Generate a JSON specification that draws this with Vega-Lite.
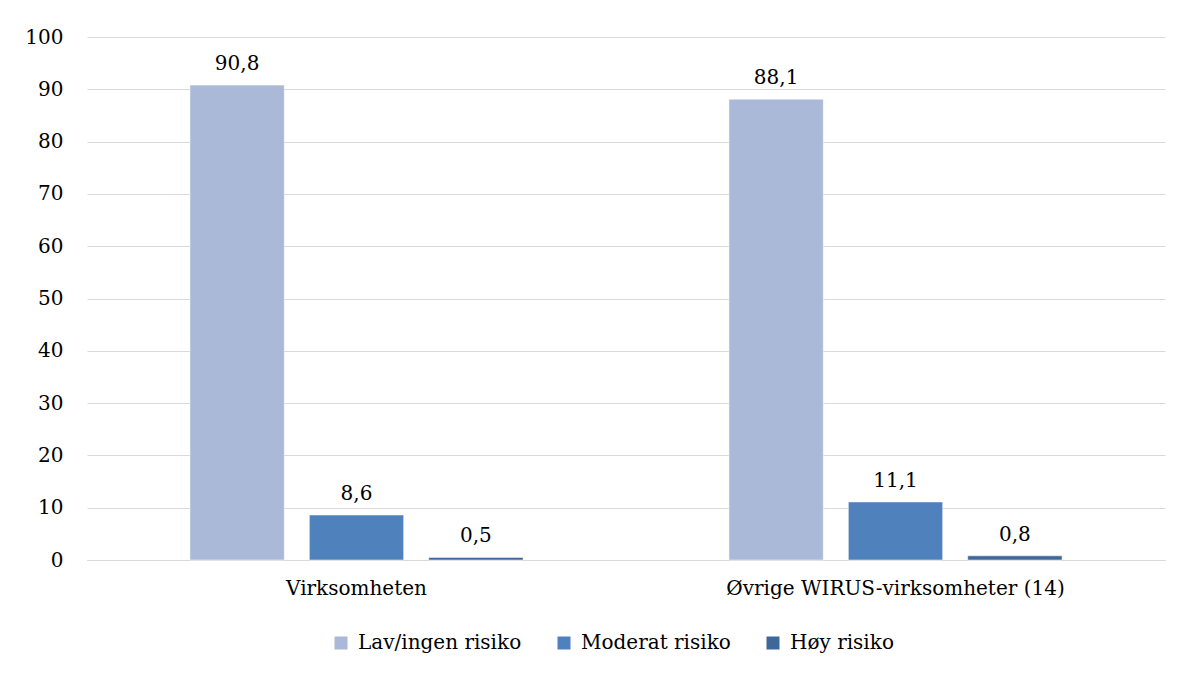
{
  "$schema": "https://vega.github.io/schema/vega-lite/v6.json",
  "autosize": {"type": "none"},
  "width": 1078,
  "height": 523,
  "padding": {"left": 87, "top": 37, "right": 23, "bottom": 115},
  "background": "white",
  "config": {
    "font": "DejaVu Serif",
    "view": {"stroke": null}
  },
  "data": {
    "values": [
      {"gruppe": "Virksomheten", "risiko": "Lav/ingen risiko", "verdi": 90.8, "label": "90,8"},
      {"gruppe": "Virksomheten", "risiko": "Moderat risiko", "verdi": 8.6, "label": "8,6"},
      {"gruppe": "Virksomheten", "risiko": "Høy risiko", "verdi": 0.5, "label": "0,5"},
      {"gruppe": "Øvrige WIRUS-virksomheter (14)", "risiko": "Lav/ingen risiko", "verdi": 88.1, "label": "88,1"},
      {"gruppe": "Øvrige WIRUS-virksomheter (14)", "risiko": "Moderat risiko", "verdi": 11.1, "label": "11,1"},
      {"gruppe": "Øvrige WIRUS-virksomheter (14)", "risiko": "Høy risiko", "verdi": 0.8, "label": "0,8"}
    ]
  },
  "encoding": {
    "x": {
      "field": "gruppe", "type": "nominal", "sort": null, "title": null,
      "scale": {"paddingInner": 0.382, "paddingOuter": 0.191},
      "axis": {"labelAngle": 0, "labelFontSize": 20, "labelLimit": 0, "labelColor": "#000000", "labelPadding": 18, "ticks": false, "domain": true, "domainColor": "#D9D9D9", "domainWidth": 1}
    },
    "xOffset": {
      "field": "risiko", "type": "nominal",
      "sort": ["Lav/ingen risiko", "Moderat risiko", "Høy risiko"],
      "scale": {"paddingInner": 0.21, "paddingOuter": 0}
    },
    "y": {
      "field": "verdi", "type": "quantitative", "title": null,
      "scale": {"domain": [0, 100]},
      "axis": {"values": [0,10,20,30,40,50,60,70,80,90,100], "labelFontSize": 20, "labelColor": "#000000", "labelPadding": 24, "ticks": false, "domain": false, "grid": true, "gridColor": "#D9D9D9", "gridWidth": 1}
    }
  },
  "layer": [
    {
      "mark": {"type": "bar", "stroke": "#ffffff", "strokeWidth": 0.5},
      "encoding": {
        "color": {
          "field": "risiko", "type": "nominal", "title": null,
          "sort": ["Lav/ingen risiko", "Moderat risiko", "Høy risiko"],
          "scale": {"domain": ["Lav/ingen risiko", "Moderat risiko", "Høy risiko"], "range": ["#A9B9D7", "#4F81BD", "#3E6899"]},
          "legend": {"orient": "none", "legendX": 244, "legendY": 596, "direction": "horizontal", "symbolType": "square", "symbolSize": 169, "symbolStrokeWidth": 0, "labelFontSize": 20, "labelLimit": 0, "labelColor": "#000000", "labelOffset": 7, "columnPadding": 32}
        }
      }
    },
    {
      "mark": {"type": "text", "baseline": "alphabetic", "dy": -15, "fontSize": 20, "color": "#000000"},
      "encoding": {"text": {"field": "label"}}
    }
  ]
}
